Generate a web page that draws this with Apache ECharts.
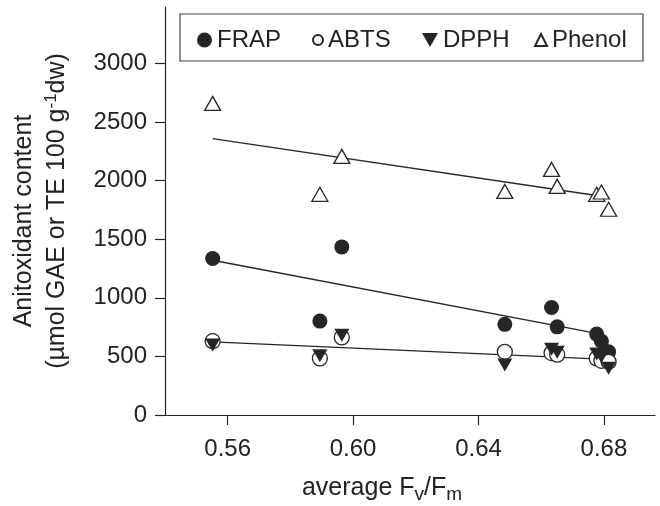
<!DOCTYPE html>
<html>
<head>
<meta charset="utf-8">
<script src="https://cdn.jsdelivr.net/npm/echarts@6/dist/echarts.min.js"></script>
<style>
  html, body { margin: 0; padding: 0; background: #fff; }
  #chart { width: 660px; height: 506px; }
</style>
</head>
<body>
<div id="chart"></div>
<script>
// average Fv/Fm of each sample
const fvfm = [0.5552, 0.5894, 0.5964, 0.6484, 0.6633, 0.6651, 0.6777, 0.6792, 0.6815];
const frap = [1335, 801, 1434, 773, 917, 752, 690, 630, 539];
const abts = [630, 483, 662, 539, 528, 515, 483, 462, 454];
const dpph = [596, 505, 681, 426, 560, 535, 520, 497, 398];
const phenol = [2658, 1882, 2206, 1907, 2095, 1950, 1882, 1902, 1755];

// fitted lines, value at each end
const frapFit = [[0.5552, 1320], [0.6777, 696]];
const abtsFit = [[0.5552, 624], [0.6810, 474]];
const phenolFit = [[0.5552, 2357], [0.6787, 1868]];

const xTicks = [0.56, 0.60, 0.64, 0.68];
const yTicks = [0, 500, 1000, 1500, 2000, 2500, 3000];

const FONT = 'Liberation Sans, Arial, sans-serif';
const INK = '#262626';
const TEXT = '#222';

const pts = ys => fvfm.map((x, i) => [x, ys[i]]);

const fitLine = data => ({
  type: 'line',
  data: data,
  showSymbol: false,
  silent: true,
  z: 1,
  lineStyle: { color: INK, width: 1.3 }
});

// one legend per item so each icon can keep its own size
const legendItem = (item, left, size) => ({
  data: [item],
  left: left,
  top: 28,
  padding: 0,
  itemWidth: size,
  itemHeight: size,
  selectedMode: false,
  textStyle: { fontFamily: FONT, fontSize: 24, color: TEXT }
});

const chart = echarts.init(document.getElementById('chart'));
chart.setOption({
  animation: false,
  grid: { left: 165, right: 5, top: 7, bottom: 91, outerBoundsMode: 'none' },
  graphic: [{
    type: 'rect',
    shape: { x: 180, y: 14, width: 463, height: 47 },
    style: { fill: 'none', stroke: '#444', lineWidth: 1.2 }
  }],
  legend: [
    legendItem('FRAP', 197, 15),
    legendItem('ABTS', 312, 10),
    legendItem({ name: 'DPPH', icon: 'path://M0,0L16,0L8,14Z' }, 422, 16),
    legendItem('Phenol', 534, 12)
  ],
  xAxis: {
    type: 'value',
    min: 0.54,
    max: 0.6963,
    splitLine: { show: false },
    axisLine: { lineStyle: { color: INK, width: 1.2 } },
    axisTick: { length: 10, customValues: xTicks, lineStyle: { color: INK, width: 1.2 } },
    axisLabel: {
      customValues: xTicks,
      margin: 22,
      fontFamily: FONT, fontSize: 24, color: TEXT,
      formatter: v => v.toFixed(2)
    },
    name: 'average F{sub|v}/F{sub|m}',
    nameLocation: 'middle',
    nameGap: 57,
    nameTextStyle: {
      fontFamily: FONT, fontSize: 25, color: TEXT,
      padding: [0, 56, 0, 0],
      rich: { sub: { fontFamily: FONT, fontSize: 19, color: TEXT, padding: [13, 0, 0, 0] } }
    }
  },
  yAxis: {
    type: 'value',
    min: 0,
    max: 3480,
    splitLine: { show: false },
    axisLine: { lineStyle: { color: INK, width: 1.2 } },
    axisTick: { length: 10, customValues: yTicks, lineStyle: { color: INK, width: 1.2 } },
    axisLabel: {
      customValues: yTicks, margin: 18,
      fontFamily: FONT, fontSize: 24, color: TEXT,
      formatter: v => String(v)
    },
    name: '{a|Anitoxidant content}\n(µmol GAE or TE 100 g{sup|-1}dw)',
    nameLocation: 'middle',
    nameRotate: 90,
    nameGap: 91,
    nameTextStyle: {
      fontFamily: FONT, fontSize: 25, color: TEXT, lineHeight: 33,
      rich: {
        a: { fontFamily: FONT, fontSize: 25, color: TEXT, lineHeight: 33, padding: [0, 20, 0, 0] },
        sup: { fontFamily: FONT, fontSize: 17, color: TEXT, lineHeight: 33, padding: [0, 0, 12, 0] }
      }
    }
  },
  series: [
    fitLine(frapFit),
    fitLine(abtsFit),
    fitLine(phenolFit),
    {
      name: 'FRAP', type: 'scatter', data: pts(frap),
      symbol: 'circle', symbolSize: 15,
      itemStyle: { color: INK, opacity: 1 }
    },
    {
      name: 'ABTS', type: 'scatter', data: pts(abts),
      symbol: 'circle', symbolSize: 15,
      itemStyle: { color: '#fff', borderColor: INK, borderWidth: 1.3, opacity: 1 }
    },
    {
      name: 'DPPH', type: 'scatter', data: pts(dpph),
      symbol: 'triangle', symbolRotate: 180, symbolSize: [15, 13],
      itemStyle: { color: INK, opacity: 1 }
    },
    {
      name: 'Phenol', type: 'scatter', data: pts(phenol),
      symbol: 'triangle', symbolSize: [16, 14],
      itemStyle: { color: '#fff', borderColor: INK, borderWidth: 1.3, opacity: 1 }
    }
  ]
});
</script>
</body>
</html>
